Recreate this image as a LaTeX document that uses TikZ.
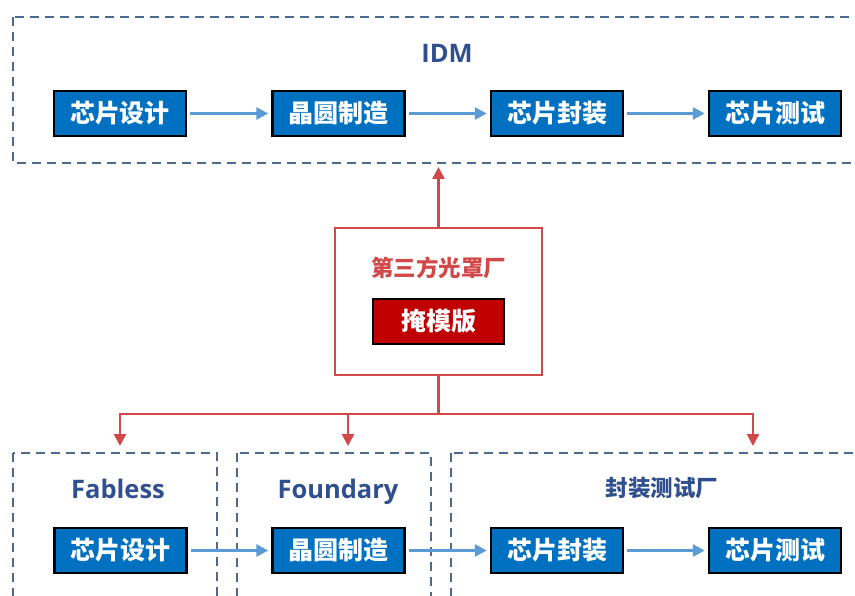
\documentclass[tikz,border=0pt]{standalone}
\usepackage{fontspec}
\newfontfamily\cjk{Noto Sans CJK SC}
\newfontfamily\latin{Open Sans}
\usetikzlibrary{arrows.meta}
\definecolor{boxblue}{HTML}{0070C0}
\definecolor{arrblue}{HTML}{5B9BD5}
\definecolor{dashcol}{HTML}{4A6A90}
\definecolor{titleblue}{HTML}{2F4F8F}
\definecolor{redline}{HTML}{D04848}
\definecolor{darkred}{HTML}{C00000}
\tikzset{
  stepbox/.style={draw=black, line width=2.5pt, fill=boxblue, text=white, minimum width=132pt, minimum height=45pt, inner sep=0pt, font=\cjk\bfseries\fontsize{25}{25}\selectfont},
  maskbox/.style={stepbox, fill=darkred, minimum width=131pt},
  group/.style={draw=dashcol, line width=2.6pt, dash pattern=on 9pt off 6pt},
  flow/.style={draw=arrblue, line width=3pt, -{Triangle[length=12pt,width=12pt]}},
  redflow/.style={draw=redline, line width=2.6pt, -{Triangle[length=12pt,width=12pt]}},
  grouptitle/.style={text=titleblue, anchor=base, font=\latin\bfseries\fontsize{25.5}{25.5}\selectfont},
  cjktitle/.style={text=titleblue, font=\cjk\bfseries\fontsize{22.5}{22.5}\selectfont},
}
\begin{document}
\begin{tikzpicture}[x=1pt,y=-1pt]
\clip (0,0) rectangle (855,596);
\fill[white] (0,0) rectangle (855,596);
% group boxes
\draw[group] (13,17) rectangle (900,163);
\draw[group] (13,453) rectangle (217,640);
\draw[group] (237,453) rectangle (431,640);
\draw[group] (451,453) rectangle (900,640);
% titles
\node[grouptitle] (tidm) at (447,63) {IDM};
\node[grouptitle] (tfab) at (118,498.5) {Fabless};
\node[grouptitle] (tfou) at (338,498.5) {Foundary};
\node[cjktitle] (tpkg) at (662,488) {封装测试厂};
% top row
\node[stepbox] (a1) at (120,113.5) {芯片设计};
\node[stepbox] (a2) at (338.5,113.5) {晶圆制造};
\node[stepbox] (a3) at (557,113.5) {芯片封装};
\node[stepbox] (a4) at (775,113.5) {芯片测试};
% bottom row
\node[stepbox] (b1) at (120.5,550.5) {芯片设计};
\node[stepbox] (b2) at (338.5,550.5) {晶圆制造};
\node[stepbox] (b3) at (557,550.5) {芯片封装};
\node[stepbox] (b4) at (775,550.5) {芯片测试};
% arrows
\foreach \s/\t in {a1/a2,a2/a3,a3/a4,b1/b2,b2/b3,b3/b4}
  \draw[flow] ([xshift=3pt]\s.east) -- ([xshift=-3pt]\t.west);
% mask shop
\node[draw=redline, line width=2.6pt, minimum width=207pt, minimum height=147pt, inner sep=0pt] (mask) at (438.5,301.5) {};
\node[text=redline, font=\cjk\bfseries\fontsize{22.5}{22.5}\selectfont] (mtitle) at (438.5,268) {第三方光罩厂};
\node[maskbox] (mbox) at (438.5,321.5) {掩模版};
\coordinate (topin) at (438.5,167);
\draw[redflow] (mask.north) -- (topin);
\coordinate (split) at (438.5,414);
\coordinate (l1) at (120,414);
\coordinate (l2) at (348,414);
\coordinate (l3) at (753,414);
\coordinate (d1) at (120,446);
\coordinate (d2) at (348,446);
\coordinate (d3) at (753,446);
\draw[draw=redline, line width=2.6pt] (mask.south) -- (split);
\draw[redflow] (split) -- (l1) -- (d1);
\draw[redflow] (l2) -- (d2);
\draw[redflow] (split) -- (l3) -- (d3);
\end{tikzpicture}
\end{document}
